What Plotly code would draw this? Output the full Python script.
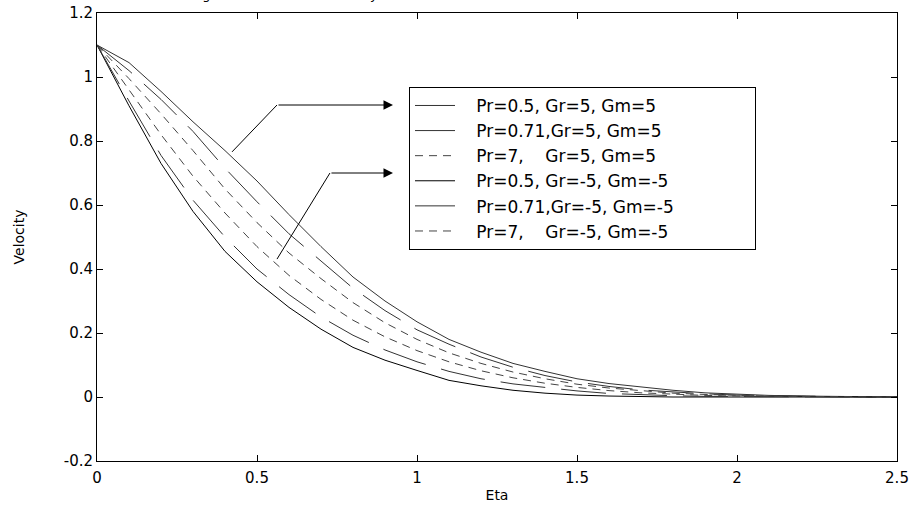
import plotly.graph_objects as go

# ---- data ----
eta = [0, 0.1, 0.2, 0.3, 0.4, 0.5, 0.6, 0.7, 0.8, 0.9, 1.0, 1.1, 1.2, 1.3,
       1.4, 1.5, 1.6, 1.7, 1.8, 1.9, 2.0, 2.1, 2.2, 2.3, 2.4, 2.5]

v_pr05_gr5 = [1.1, 1.045, 0.955, 0.86, 0.77, 0.675, 0.57, 0.47, 0.375, 0.30,
              0.235, 0.18, 0.14, 0.105, 0.08, 0.057, 0.042, 0.031, 0.021, 0.013,
              0.008, 0.005, 0.003, 0.002, 0.001, 0.0]
v_pr071_gr5 = [1.1, 1.02, 0.93, 0.83, 0.715, 0.61, 0.51, 0.425, 0.34, 0.27,
               0.21, 0.165, 0.125, 0.093, 0.067, 0.047, 0.033, 0.022, 0.015, 0.010,
               0.006, 0.004, 0.002, 0.001, 0.0, 0.0]
v_pr7_gr5 = [1.1, 0.995, 0.885, 0.77, 0.65, 0.545, 0.45, 0.37, 0.295, 0.232,
             0.18, 0.138, 0.105, 0.078, 0.057, 0.040, 0.028, 0.019, 0.012, 0.008,
             0.005, 0.003, 0.002, 0.001, 0.0, 0.0]
v_pr7_grm5 = [1.1, 0.96, 0.82, 0.69, 0.575, 0.47, 0.38, 0.305, 0.24, 0.188,
              0.145, 0.11, 0.082, 0.06, 0.043, 0.030, 0.020, 0.013, 0.008, 0.005,
              0.003, 0.002, 0.001, 0.0, 0.0, 0.0]
v_pr071_grm5 = [1.1, 0.925, 0.755, 0.615, 0.50, 0.40, 0.32, 0.25, 0.193, 0.147,
                0.11, 0.08, 0.057, 0.041, 0.030, 0.019, 0.011, 0.007, 0.004, 0.002,
                0.001, 0.0, 0.0, 0.0, 0.0, 0.0]
v_pr05_grm5 = [1.1, 0.91, 0.73, 0.58, 0.455, 0.36, 0.28, 0.212, 0.155, 0.115,
               0.083, 0.052, 0.035, 0.021, 0.012, 0.006, 0.003, 0.001, 0.0, 0.0,
               0.0, 0.0, 0.0, 0.0, 0.0, 0.0]

NB = "\u00a0"
series_labels = [
    "Pr=0.5, Gr=5, Gm=5",
    "Pr=0.71,Gr=5, Gm=5",
    "Pr=7," + NB * 4 + "Gr=5, Gm=5",
    "Pr=0.5, Gr=-5, Gm=-5",
    "Pr=0.71,Gr=-5, Gm=-5",
    "Pr=7," + NB * 4 + "Gr=-5, Gm=-5",
]
series_values = [v_pr05_gr5, v_pr071_gr5, v_pr7_gr5,
                 v_pr05_grm5, v_pr071_grm5, v_pr7_grm5]
series_dash = ["solid", "45px,16px", "8px,6px", "solid", "45px,16px", "8px,6px"]
series_color = ["#333333", "#333333", "#444444", "black", "#333333", "#444444"]

x_ticks = [0, 0.5, 1, 1.5, 2, 2.5]
x_ticktext = ["0", "0.5", "1", "1.5", "2", "2.5"]
y_ticks = [-0.2, 0, 0.2, 0.4, 0.6, 0.8, 1.0, 1.2]
y_ticktext = ["-0.2", "0", "0.2", "0.4", "0.6", "0.8", "1", "1.2"]

# arrow pointers (data coordinates): tail on curve, elbow, head
arrow_tail = [(0.422, 0.766), (0.5625, 0.431)]
arrow_elbow = [(0.5625, 0.9125), (0.728, 0.70)]
arrow_head = [(0.925, 0.9125), (0.925, 0.70)]

title_text = ("Fig. 3 Effect of Pr on Velocity at time t=0.2 and M=1.0, "
              "Sc=0.22, K=1.0, A=0.5, R=1.0")

FONT = "DejaVu Sans, Liberation Sans, Arial, sans-serif"
LEAD_PAD = NB * 3   # widen legend to match the reference box
TAIL_PAD = NB * 14

fig = go.Figure()
for label, vals, dash, col in zip(series_labels, series_values, series_dash, series_color):
    fig.add_trace(go.Scatter(x=eta, y=vals, mode="lines",
                             name=LEAD_PAD + label + TAIL_PAD,
                             line=dict(color=col, width=1, dash=dash)))

for (tx, ty), (ex, ey), (hx, hy) in zip(arrow_tail, arrow_elbow, arrow_head):
    fig.add_shape(type="line", xref="x", yref="y", x0=tx, y0=ty, x1=ex, y1=ey,
                  line=dict(color="black", width=1))
    fig.add_annotation(x=hx, y=hy, ax=ex, ay=ey, xref="x", yref="y",
                       axref="x", ayref="y", text="", showarrow=True,
                       arrowhead=2, arrowsize=1.9, arrowwidth=1, arrowcolor="black")

fig.add_annotation(text=title_text, xref="paper", yref="paper", x=0.47, y=1,
                   xanchor="center", yanchor="bottom", yshift=9, showarrow=False,
                   font=dict(family=FONT, size=13, color="black"))

axis_common = dict(showline=True, linecolor="black", linewidth=1, mirror="ticks",
                   ticks="inside", ticklen=6, tickcolor="black", showgrid=False,
                   zeroline=False, automargin=False,
                   tickfont=dict(family=FONT, size=15, color="black"))

fig.update_layout(
    width=911, height=511,
    margin=dict(l=97, r=14, t=13, b=50),
    paper_bgcolor="white", plot_bgcolor="white",
    font=dict(family=FONT, color="black"),
    xaxis=dict(range=[0, 2.5], tickvals=x_ticks, ticktext=x_ticktext,
               ticklabelstandoff=3,
               title=dict(text="Eta", font=dict(family=FONT, size=14), standoff=4),
               **axis_common),
    yaxis=dict(range=[-0.2, 1.2], tickvals=y_ticks, ticktext=y_ticktext,
               title=dict(text="Velocity", font=dict(family=FONT, size=14), standoff=35),
               **axis_common),
    legend=dict(x=0.39, y=0.835, xanchor="left", yanchor="top",
                bordercolor="black", borderwidth=1, bgcolor="white",
                font=dict(family=FONT, size=17, color="black"),
                tracegroupgap=0, itemwidth=40),
    showlegend=True,
)

fig.write_html("out.html", config={"displayModeBar": False},
               post_script="document.body.style.margin='0';document.body.style.padding='0';")
